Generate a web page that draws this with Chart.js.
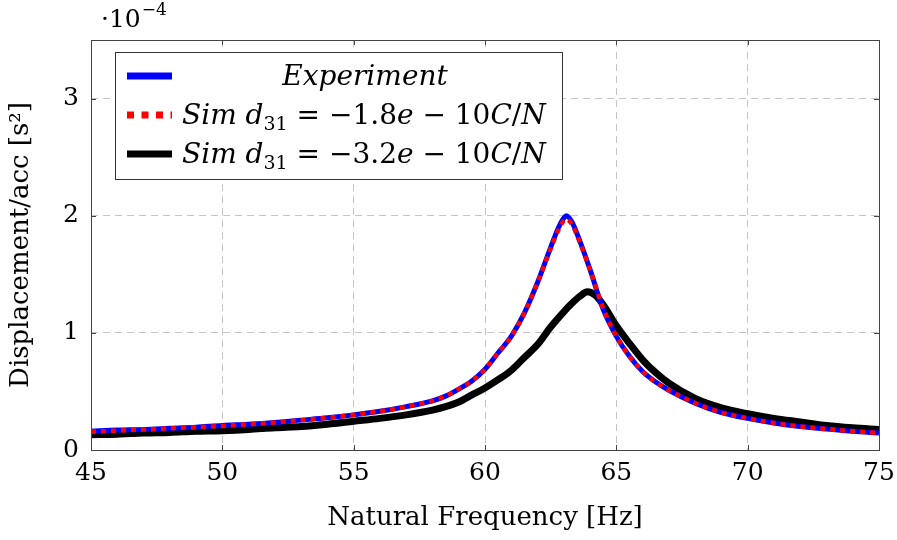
<!DOCTYPE html>
<html><head><meta charset="utf-8">
<script src="https://cdn.jsdelivr.net/npm/chart.js@4"></script>
<style>html,body{margin:0;padding:0;background:#fff}#wrap{width:897px;height:540px}</style>
</head><body><div id="wrap"><canvas id="c" width="897" height="540"></canvas></div>
<script>
// Values in units of 10^-4 s^2
const xTicks = [45,50,55,60,65,70,75];
const yTicks = [0,1,2,3];
const yExponent = '−4';

const freqExp = [45,46,47,48,49,50,51,52,53,54,55,56,57,58,58.5,59,59.5,60,60.5,61,61.5,62,62.5,62.8,63,63.1,63.3,63.6,64,64.5,65,65.5,66,66.5,67,68,69,70,71,72,73,74,75];
const dispExp = [0.16,0.17,0.175,0.185,0.195,0.21,0.22,0.235,0.255,0.275,0.30,0.33,0.37,0.42,0.46,0.52,0.59,0.69,0.83,0.97,1.17,1.43,1.73,1.90,1.98,2.00,1.95,1.79,1.54,1.20,0.97,0.80,0.67,0.58,0.51,0.40,0.32,0.27,0.23,0.20,0.18,0.16,0.145];

const freqSim18 = [45,46,47,48,49,50,51,52,53,54,55,56,57,58,58.5,59,59.5,60,60.5,61,61.5,62,62.5,62.8,63,63.1,63.3,63.6,64,64.5,65,65.5,66,66.5,67,68,69,70,71,72,73,74,75];
const dispSim18 = [0.155,0.165,0.175,0.185,0.195,0.205,0.22,0.235,0.255,0.275,0.30,0.33,0.37,0.42,0.46,0.52,0.59,0.69,0.83,0.97,1.17,1.43,1.72,1.88,1.96,1.97,1.93,1.78,1.54,1.21,0.97,0.80,0.67,0.58,0.51,0.40,0.32,0.27,0.23,0.20,0.18,0.16,0.145];

const freqSim32 = [45,46,47,48,49,50,51,52,53,54,55,56,57,58,58.5,59,59.5,60,60.5,61,61.5,62,62.5,63,63.3,63.6,63.9,64.2,64.5,65,65.5,66,66.5,67,68,69,70,71,72,73,74,75];
const dispSim32 = [0.13,0.135,0.145,0.15,0.16,0.165,0.175,0.19,0.20,0.22,0.245,0.27,0.30,0.34,0.37,0.41,0.47,0.53,0.60,0.68,0.79,0.90,1.05,1.18,1.25,1.31,1.35,1.32,1.24,1.06,0.91,0.77,0.66,0.57,0.44,0.36,0.31,0.27,0.24,0.21,0.19,0.175];

const seriesLabels = ['Experiment', 'Sim d31 = −1.8e − 10C/N', 'Sim d31 = −3.2e − 10C/N'];
const xTitle = 'Natural Frequency [Hz]';
const yTitle = 'Displacement/acc [s²]';

const SERIF = '"DejaVu Serif", "Liberation Serif", serif';
const toPts = (xs, ys) => xs.map((x, i) => ({x, y: ys[i]}));

function legendPieces(idx){
  if (idx === 0) return [['Experiment','i']];
  const coef = idx === 1 ? '1.8' : '3.2';
  return [['Sim ','i'],['d','i'],['31','s'],[' = −'+coef,'r'],['e','i'],[' − 10','r'],['C','i'],['/','r'],['N','i']];
}

const framePlugin = {
  id: 'frame',
  afterDatasetsDraw(chart){
    const ctx = chart.ctx, a = chart.chartArea;
    const xs = chart.scales.x, ys = chart.scales.y;
    ctx.save();
    ctx.strokeStyle = '#444'; ctx.lineWidth = 1;
    ctx.strokeRect(Math.round(a.left)+0.5, Math.round(a.top)+0.5, Math.round(a.right-a.left), Math.round(a.bottom-a.top));
    ctx.beginPath();
    xTicks.forEach(v => { const p = Math.round(xs.getPixelForValue(v))+0.5;
      ctx.moveTo(p, a.bottom); ctx.lineTo(p, a.bottom-5); ctx.moveTo(p, a.top); ctx.lineTo(p, a.top+5); });
    yTicks.forEach(v => { const p = Math.round(ys.getPixelForValue(v))+0.5;
      ctx.moveTo(a.left, p); ctx.lineTo(a.left+5, p); ctx.moveTo(a.right, p); ctx.lineTo(a.right-5, p); });
    ctx.stroke();

    // legend
    const bx = 115.5, by = 52.5, bw = 447, bh = 127;
    ctx.fillStyle = '#fff'; ctx.fillRect(bx, by, bw, bh);
    ctx.strokeStyle = '#333'; ctx.lineWidth = 1; ctx.strokeRect(bx, by, bw, bh);
    const rows = [76, 115, 154];
    const styles = [
      {c:'#0000ff', w:7, d:[]},
      {c:'#ff0000', w:7, d:[7,7.5]},
      {c:'#000000', w:7, d:[]}
    ];
    rows.forEach((ry, i) => {
      const s = styles[i];
      ctx.save();
      ctx.strokeStyle = s.c; ctx.lineWidth = s.w; ctx.setLineDash(s.d); ctx.lineCap = 'butt';
      ctx.beginPath(); ctx.moveTo(127, ry); ctx.lineTo(172, ry); ctx.stroke();
      ctx.restore();
      const pieces = legendPieces(i);
      const fontFor = st => st === 'i' ? 'italic 28px '+SERIF : st === 's' ? '19px '+SERIF : '28px '+SERIF;
      let total = 0;
      pieces.forEach(([t, st]) => { ctx.font = fontFor(st); total += ctx.measureText(t).width; });
      let x = i === 0 ? 365 - total/2 : 182;
      ctx.fillStyle = '#000'; ctx.textBaseline = 'alphabetic'; ctx.textAlign = 'left';
      pieces.forEach(([t, st]) => {
        ctx.font = fontFor(st);
        ctx.fillText(t, x, st === 's' ? ry + 15 : ry + 9);
        x += ctx.measureText(t).width;
      });
    });

    ctx.fillStyle = '#000'; ctx.textAlign = 'left'; ctx.textBaseline = 'alphabetic';
    ctx.font = '25px '+SERIF;
    ctx.fillText('·10', 101, 27);
    const w = ctx.measureText('·10').width;
    ctx.font = '17px '+SERIF;
    ctx.fillText(yExponent, 101 + w + 1, 15);
    ctx.restore();
  }
};

new Chart(document.getElementById('c'), {
  type: 'line',
  data: {
    datasets: [
      {label: seriesLabels[1], data: toPts(freqSim18, dispSim18), borderColor:'#ff0000', borderWidth:4.5, borderDash:[5,5], pointRadius:0, cubicInterpolationMode:'monotone', fill:false},
      {label: seriesLabels[0], data: toPts(freqExp, dispExp), borderColor:'#0000ff', borderWidth:5, pointRadius:0, cubicInterpolationMode:'monotone', fill:false},
      {label: seriesLabels[2], data: toPts(freqSim32, dispSim32), borderColor:'#000000', borderWidth:7, pointRadius:0, cubicInterpolationMode:'monotone', fill:false}
    ]
  },
  options: {
    responsive: false, animation: false, devicePixelRatio: 1,
    layout: {padding: {top: 40, right: 18, left: 0, bottom: 0}},
    plugins: {legend: {display:false}, tooltip: {enabled:false}},
    scales: {
      x: {
        type: 'linear', min: 45, max: 75,
        afterFit: s => { s.height = 90; s.paddingLeft = 0; s.paddingRight = 0; },
        afterBuildTicks: s => { s.ticks = xTicks.map(v => ({value: v})); },
        grid: {color:'#c4c4c4', lineWidth:1, drawTicks:false},
        border: {display:false, dash:[7,5]},
        ticks: {color:'#000', font:{family:SERIF, size:25}, padding:8, maxRotation:0, callback: v => String(v)},
        title: {display:true, text:xTitle, color:'#000', font:{family:SERIF, size:26}, padding:{top:0, bottom:6}}
      },
      y: {
        type: 'linear', min: 0, max: 3.5,
        afterFit: s => { s.width = 91; s.paddingTop = 0; s.paddingBottom = 0; },
        afterBuildTicks: s => { s.ticks = yTicks.map(v => ({value: v})); },
        grid: {color:'#c4c4c4', lineWidth:1, drawTicks:false},
        border: {display:false, dash:[7,5]},
        ticks: {color:'#000', font:{family:SERIF, size:25}, padding:12, callback: v => String(v)},
        title: {display:true, text:yTitle, color:'#000', font:{family:SERIF, size:26}, padding:{top:6, bottom:0}}
      }
    }
  },
  plugins: [framePlugin]
});
</script>
</body></html>
